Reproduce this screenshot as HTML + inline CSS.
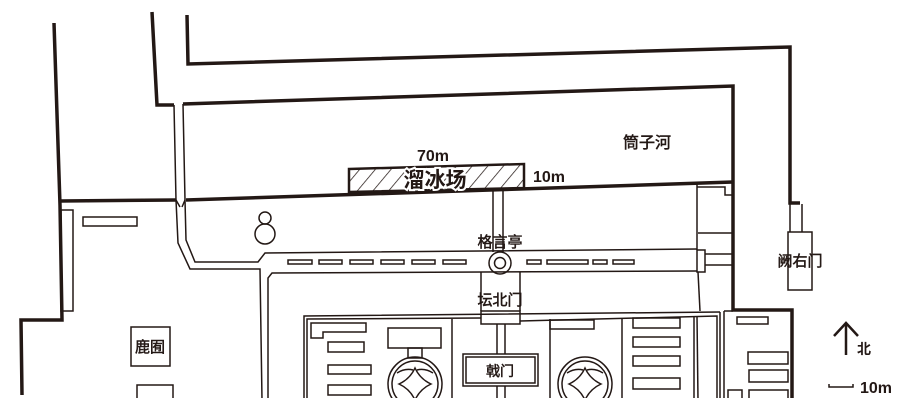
<!DOCTYPE html>
<html><head><meta charset="utf-8"><style>
html,body{margin:0;padding:0;background:#fff;width:922px;height:412px;overflow:hidden}
svg{display:block}
text{font-family:"Liberation Sans","Noto Sans CJK SC",sans-serif;fill:#231815}
.m{stroke:#231815;stroke-width:0.5}
</style></head><body>
<svg width="922" height="412" viewBox="0 0 922 412" xmlns="http://www.w3.org/2000/svg">
<defs>
<pattern id="h" width="12" height="12" patternUnits="userSpaceOnUse" patternTransform="rotate(40)">
<line x1="0" y1="0" x2="0" y2="12" stroke="#231815" stroke-width="1.5"/>
</pattern>
<clipPath id="cp"><rect x="0" y="0" width="922" height="398"/></clipPath>
</defs>
<g fill="none" stroke="#231815" stroke-linejoin="miter" clip-path="url(#cp)">
<g stroke-width="3.5">
<polyline points="54,23 60,205 62,320 21,320 22,395"/>
<polyline points="152,12 157,105 174,105"/>
<polyline points="183,104 733,86 733,310 792,310 792,398"/>
<polyline points="187,15 188,64 790,47 790,203 800,203"/>
<polyline points="60,201 176,200"/>
<polyline points="186,200 733,182"/>
</g>
<g stroke-width="1.5">
<polyline points="174,105 176,200 178,243 190,269 260,269 262,400"/>
<polyline points="183,104 185,200 186,240 195,262 258,262 265,253 697,249"/>
<polyline points="268,400 268,278 272,273 697,271"/>
<line x1="176" y1="200" x2="180" y2="207"/><line x1="185" y1="200" x2="182" y2="207"/>
<line x1="493" y1="190" x2="493" y2="252"/><line x1="503" y1="190" x2="503" y2="252"/>
<line x1="481" y1="272" x2="481" y2="311"/><line x1="520" y1="272" x2="520" y2="311"/>
<circle cx="500" cy="263" r="11"/><circle cx="500" cy="263" r="5.5"/>
<line x1="497" y1="324" x2="497" y2="354"/><line x1="505" y1="324" x2="505" y2="354"/>
<line x1="497" y1="386" x2="497" y2="400"/><line x1="505" y1="386" x2="505" y2="400"/>
<rect x="288" y="260" width="24" height="4"/><rect x="319" y="260" width="23" height="4"/>
<rect x="350" y="260" width="23" height="4"/><rect x="381" y="260" width="23" height="4"/>
<rect x="412" y="260" width="23" height="4"/><rect x="443" y="260" width="23" height="4"/>
<rect x="527" y="260" width="14" height="4"/><rect x="547" y="260" width="41" height="4"/>
<rect x="593" y="260" width="14" height="4"/><rect x="613" y="260" width="21" height="4"/>
<rect x="697" y="250" width="8" height="22"/>
<line x1="705" y1="254" x2="733" y2="254"/><line x1="705" y1="265" x2="733" y2="265"/>
<polyline points="697,183 697,250"/><polyline points="698,272 700,311"/>
<polyline points="697,187 725,187 725,195 733,195"/>
<line x1="698" y1="233" x2="733" y2="233"/>
<rect x="788" y="232" width="24" height="58"/>
<polyline points="790,203 790,232"/><polyline points="802,204 802,232"/>
<rect x="61" y="210" width="12" height="101"/>
<rect x="83" y="217" width="54" height="9"/>
<circle cx="265" cy="218" r="6"/><circle cx="265" cy="234" r="10"/>
<rect x="131" y="327" width="39" height="39"/>
<polyline points="137,400 137,385 173,385 173,400"/>
<polyline points="304,400 304,316 720,312"/>
<polyline points="307,400 307,319 481,318"/>
<polyline points="520,321 717,316 717,400"/>
<rect x="481" y="311" width="39" height="13"/>
<polygon points="311,323 366,323 366,332 323,332 323,338 311,338"/>
<rect x="328" y="342" width="36" height="10"/>
<rect x="328" y="365" width="43" height="9"/>
<rect x="328" y="385" width="43" height="10"/>
<rect x="388" y="328" width="53" height="20"/>
<rect x="408" y="348" width="14" height="10"/>
<line x1="452" y1="319" x2="452" y2="400"/>
<rect x="463" y="354" width="75" height="32"/>
<rect x="466" y="357" width="69" height="26"/>
<line x1="550" y1="319" x2="550" y2="400"/>
<rect x="550" y="320" width="44" height="9"/>
<line x1="622" y1="318" x2="622" y2="400"/>
<rect x="633" y="318" width="47" height="10"/><rect x="633" y="337" width="47" height="10"/>
<rect x="633" y="356" width="47" height="10"/><rect x="633" y="378" width="47" height="11"/>
<line x1="694" y1="316" x2="694" y2="400"/><line x1="697" y1="316" x2="698" y2="400"/>
<line x1="720" y1="312" x2="720" y2="400"/>
<line x1="724" y1="311" x2="724" y2="400"/><line x1="724" y1="311" x2="733" y2="311"/>
<rect x="737" y="317" width="31" height="7"/>
<rect x="748" y="352" width="40" height="12"/><rect x="749" y="370" width="39" height="12"/>
<polyline points="749,400 749,390 788,390 788,400"/><polyline points="728,400 728,390 742,390 742,400"/>
<g>
<circle cx="415" cy="384" r="27"/><circle cx="415" cy="384" r="23"/>
<path d="M415,368 Q420,379 431,384 Q420,389 415,400 Q410,389 399,384 Q410,379 415,368Z"/>
<path d="M397,373 Q405,368 413,370 M433,373 Q425,368 417,370"/>
</g>
<g transform="translate(170,0)">
<circle cx="415" cy="384" r="27"/><circle cx="415" cy="384" r="23"/>
<path d="M415,368 Q420,379 431,384 Q420,389 415,400 Q410,389 399,384 Q410,379 415,368Z"/>
<path d="M397,373 Q405,368 413,370 M433,373 Q425,368 417,370"/>
</g>
</g>
</g>
<polygon points="349,169 524,164 524,188 349,192" fill="url(#h)" stroke="#231815" stroke-width="2.5"/>
<text x="435" y="187" font-size="21" font-weight="bold" text-anchor="middle" stroke="#fff" stroke-width="4" paint-order="stroke">溜冰场</text>
<text x="433" y="161" font-size="16" font-weight="bold" text-anchor="middle">70m</text>
<text x="533" y="182" font-size="16" font-weight="bold">10m</text>
<text class="m" x="647" y="148" font-size="16" text-anchor="middle">筒子河</text>
<text class="m" x="500" y="247" font-size="15" text-anchor="middle">格言亭</text>
<text class="m" x="500" y="305" font-size="15" text-anchor="middle">坛北门</text>
<text class="m" x="500" y="376" font-size="14" text-anchor="middle">戟门</text>
<text class="m" x="800" y="266" font-size="15" text-anchor="middle">阙右门</text>
<text class="m" x="150" y="352" font-size="15" text-anchor="middle">鹿囿</text>
<g stroke="#231815" fill="none" stroke-width="2.5">
<line x1="846" y1="323" x2="846" y2="355"/>
<polyline points="834,336 846,323 858,336"/>
</g>
<text x="857" y="354" font-size="14" font-weight="bold">北</text>
<polyline points="829,384 829,387 853,387 853,384" fill="none" stroke="#231815" stroke-width="1.5"/>
<text x="860" y="393" font-size="16" font-weight="bold">10m</text>
</svg>
</body></html>
